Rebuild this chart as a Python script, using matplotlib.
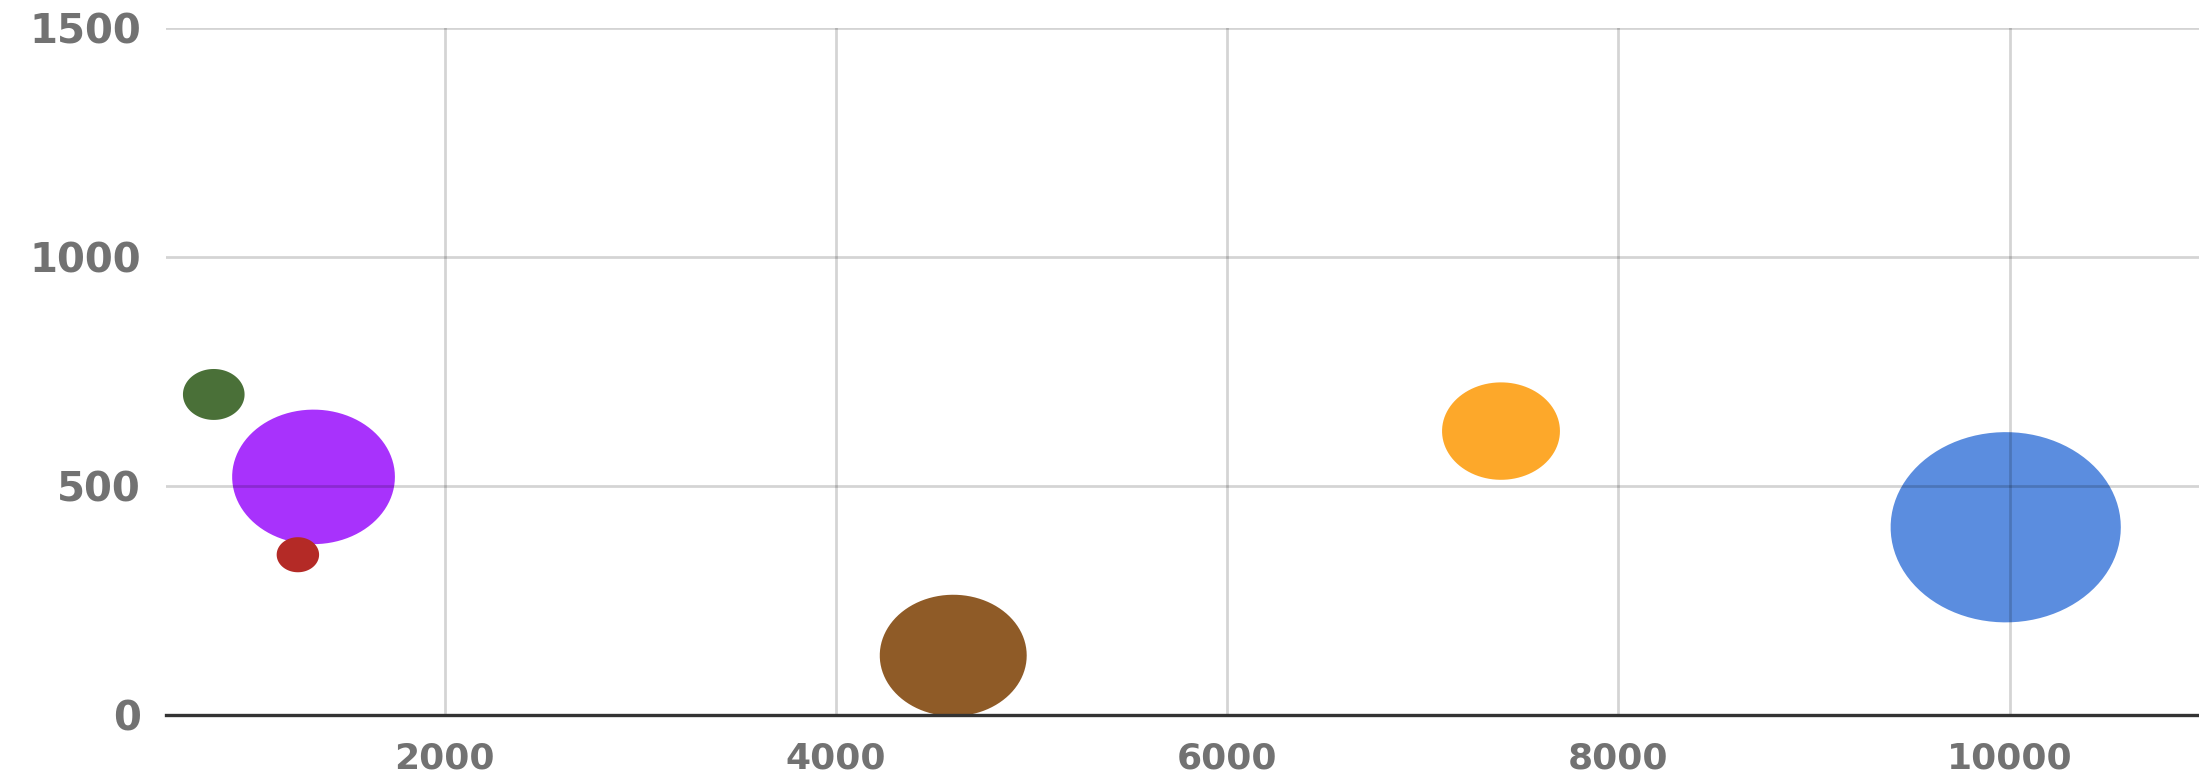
import numpy as np
import matplotlib
matplotlib.use("Agg")
import matplotlib.pyplot as plt
from matplotlib.path import Path

# ---- data ----
x_vals = [820, 1330, 1250, 4600, 7400, 9980]
y_vals = [700, 520, 350, 130, 620, 410]
bubble_vals = [38, 265, 18, 216, 139, 530]
colors = ["#4a7038", "#a832fc", "#b42a26", "#8f5b27", "#fda82a", "#5b8ddf"]
x_ticks = [2000, 4000, 6000, 8000, 10000]
y_ticks = [0, 500, 1000, 1500]

fig = plt.figure(figsize=(21.99, 7.81), dpi=100)
ax = fig.add_axes([0.0755, 0.0845, 0.9245, 0.8795])

# ellipse marker (bubbles appear horizontally stretched)
t = np.linspace(0, 2 * np.pi, 100)
verts = np.column_stack([1.21 * np.cos(t), np.sin(t)])
ell = Path(verts, closed=True)

ax.scatter(x_vals, y_vals, s=np.array(bubble_vals) * 51.84, c=colors,
           marker=ell, linewidths=0, zorder=2)

ax.set_xlim(576, 10968)
ax.set_ylim(0, 1500)
ax.set_xticks(x_ticks)
ax.set_yticks(y_ticks)
ax.set_xticklabels([str(v) for v in x_ticks])
ax.set_yticklabels([str(v) for v in y_ticks])

for v in x_ticks:
    ax.axvline(v, color="black", alpha=0.17, lw=2.0, zorder=3)
for v in y_ticks[1:]:
    ax.axhline(v, color="black", alpha=0.17, lw=2.0, zorder=3)
ax.axhline(0, color="#333333", lw=2.4, zorder=4, clip_on=False)

for s in ax.spines.values():
    s.set_visible(False)
ax.tick_params(length=0)
ax.tick_params(axis="y", pad=18)
ax.tick_params(axis="x", pad=19)
for lab in ax.get_yticklabels():
    lab.set_fontfamily("DejaVu Sans")
    lab.set_fontweight("bold")
    lab.set_fontsize(29)
    lab.set_color("#727272")
for lab in ax.get_xticklabels():
    lab.set_fontfamily("DejaVu Sans")
    lab.set_fontweight("bold")
    lab.set_fontsize(26)
    lab.set_color("#727272")

fig.savefig("out.png", dpi=100, facecolor="white")
